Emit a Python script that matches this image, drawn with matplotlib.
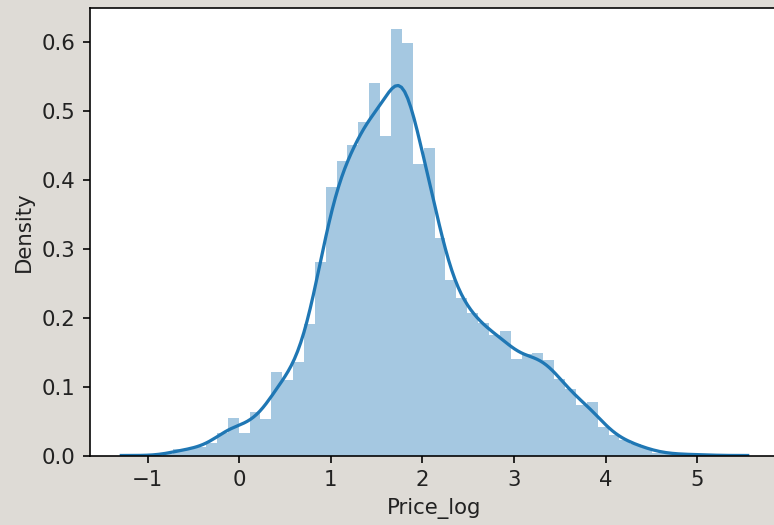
import numpy as np
import matplotlib
matplotlib.use("Agg")
import matplotlib.pyplot as plt

# Histogram (distplot-style: 50 equal bins between data min and max)
data_min = -0.836
data_max = 5.099
n_bins = 50
densities = [
    0.002, 0.009, 0.009, 0.012, 0.018,
    0.033, 0.054, 0.033, 0.063, 0.053,
    0.121, 0.110, 0.135, 0.190, 0.280,
    0.389, 0.427, 0.450, 0.483, 0.540,
    0.463, 0.618, 0.598, 0.422, 0.446,
    0.315, 0.254, 0.228, 0.207, 0.192,
    0.175, 0.180, 0.140, 0.147, 0.149,
    0.139, 0.111, 0.097, 0.073, 0.078,
    0.042, 0.030, 0.022, 0.016, 0.011,
    0.004, 0.003, 0.002, 0.001, 0.002,
]
kde_bandwidth = 0.150
x_label = "Price_log"
y_label = "Density"

dens = np.array(densities)
edges = np.linspace(data_min, data_max, n_bins + 1)
centers = 0.5 * (edges[:-1] + edges[1:])
width = edges[1] - edges[0]
weights = dens * width
weights = weights / weights.sum()

# Gaussian KDE from binned data, seaborn-like cut=3
grid = np.linspace(data_min - 3 * kde_bandwidth, data_max + 3 * kde_bandwidth, 200)
kde = (weights[None, :] * np.exp(-0.5 * ((grid[:, None] - centers[None, :]) / kde_bandwidth) ** 2)).sum(axis=1)
kde /= kde_bandwidth * np.sqrt(2 * np.pi)

plt.rcParams["font.size"] = 10.5
plt.rcParams["text.color"] = "#222222"
plt.rcParams["axes.labelcolor"] = "#222222"
plt.rcParams["xtick.labelcolor"] = "#222222"
plt.rcParams["ytick.labelcolor"] = "#222222"

dpi = 146
fig = plt.figure(figsize=(774 / dpi, 525 / dpi), dpi=dpi, facecolor="#dedbd6")
ax = fig.add_axes([90 / 774, 69.5 / 525, 689 / 774, 447.5 / 525])
ax.set_facecolor("white")

ax.hist(centers, bins=edges, weights=dens, color="#1f77b4", alpha=0.4)
ax.plot(grid, kde, color="#1f77b4", lw=1.6)

ax.set_xticks([-1, 0, 1, 2, 3, 4, 5])
ax.set_yticks([0.0, 0.1, 0.2, 0.3, 0.4, 0.5, 0.6])
ax.set_xlabel(x_label)
ax.set_ylabel(y_label)

fig.savefig("out.png", dpi=dpi, facecolor=fig.get_facecolor())
